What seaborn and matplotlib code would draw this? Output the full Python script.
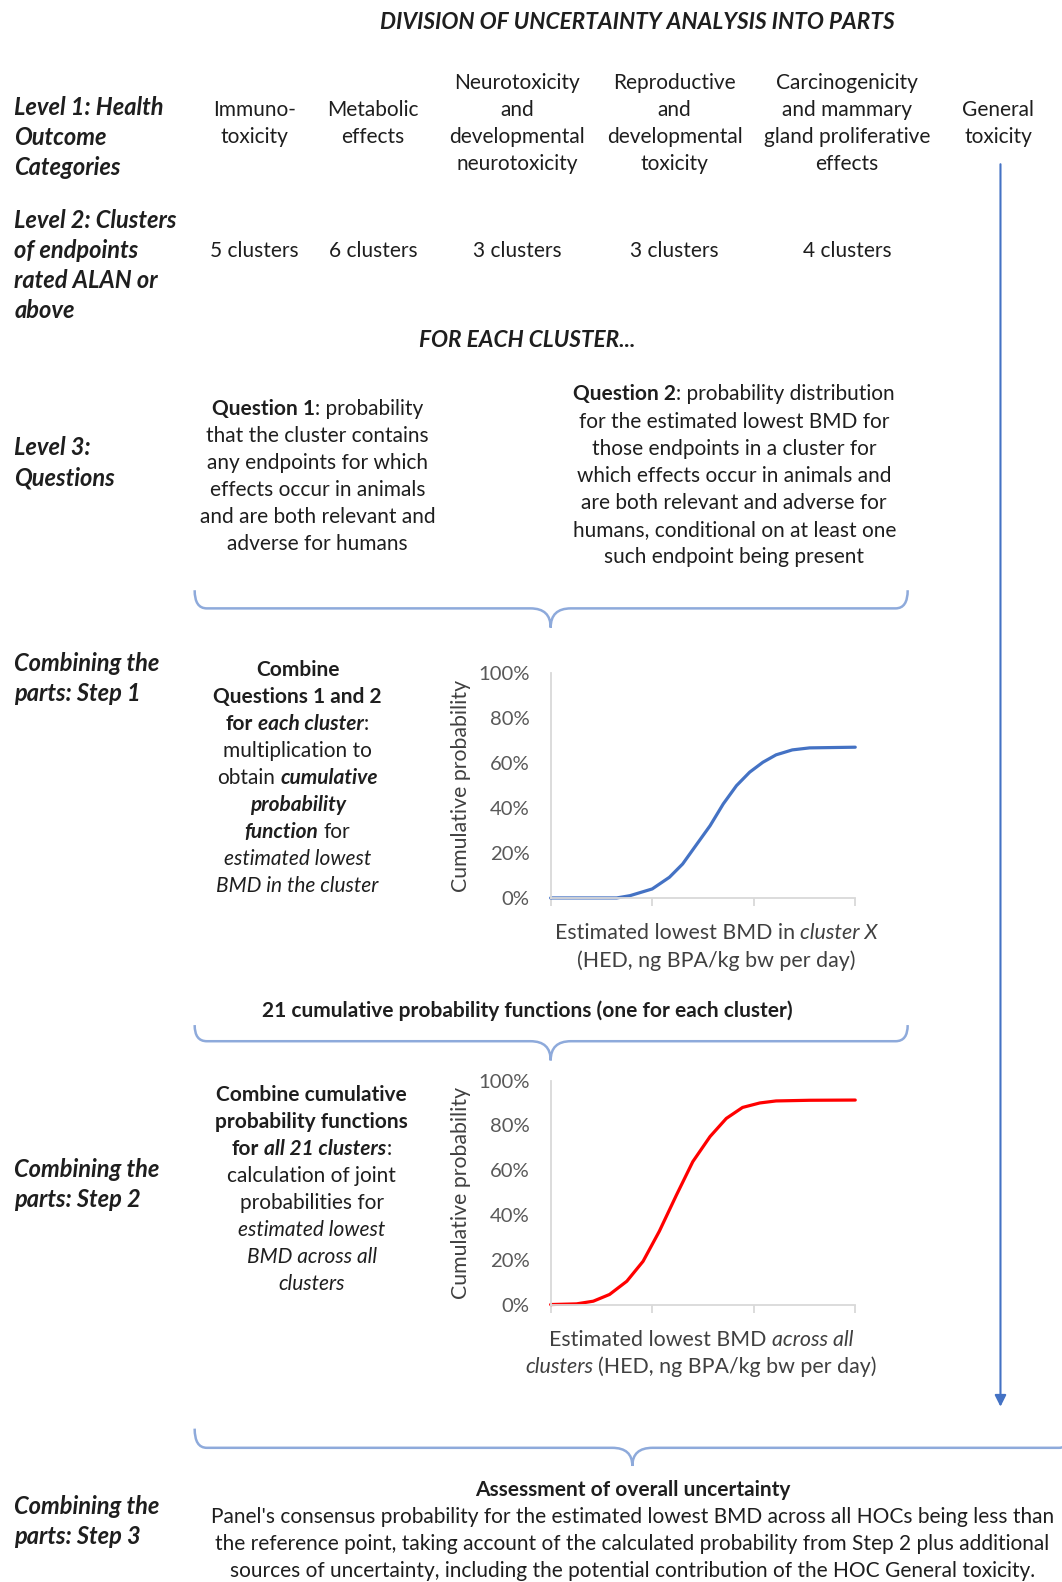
import numpy as np
import pandas as pd
import matplotlib
matplotlib.use("Agg")
import matplotlib.pyplot as plt
import seaborn as sns
from matplotlib.path import Path
from matplotlib.patches import PathPatch
from matplotlib.ticker import PercentFormatter, FixedLocator

#DATA
hoc_names = ["Immuno-\ntoxicity", "Metabolic\neffects",
             "Neurotoxicity\nand\ndevelopmental\nneurotoxicity",
             "Reproductive\nand\ndevelopmental\ntoxicity",
             "Carcinogenicity\nand mammary\ngland proliferative\neffects",
             "General\ntoxicity"]
n_clusters = [5, 6, 3, 3, 4]
total_clusters = 21

# curves (x has no units, ticks at 0..3)
bmd_cluster = [0, 0.65, 0.78, 1.0, 1.17, 1.30, 1.43, 1.57, 1.70, 1.83, 1.96, 2.09,
               2.22, 2.38, 2.55, 3.0]
prob_cluster = [0, 0, 0.010, 0.040, 0.092, 0.151, 0.233, 0.321, 0.418, 0.499, 0.559, 0.603,
                0.636, 0.658, 0.667, 0.670]
bmd_all = [0, 0.255, 0.42, 0.58, 0.75, 0.91, 1.07, 1.24, 1.40, 1.57, 1.73, 1.89,
           2.06, 2.22, 2.55, 3.0]
prob_all = [0, 0.003, 0.015, 0.045, 0.104, 0.193, 0.327, 0.49, 0.638, 0.75, 0.831, 0.88,
            0.90, 0.909, 0.912, 0.913]
y_ticks = [0, 0.2, 0.4, 0.6, 0.8, 1.0]
x_ticks = [0, 1, 2, 3]

question1 = [[("Question 1", "b"), (": probability", "")],
             "that the cluster contains", "any endpoints for which",
             "effects occur in animals", "and are both relevant and",
             "adverse for humans"]
question2 = [[("Question 2", "b"), (": probability distribution", "")],
             "for the estimated lowest BMD for", "those endpoints in a cluster for",
             "which effects occur in animals and", "are both relevant and adverse for",
             "humans, conditional on at least one", "such endpoint being present"]
step1 = [[("Combine", "b")], [("Questions 1 and 2", "b")],
         [("for ", "b"), ("each cluster", "bi"), (":", "")],
         "multiplication to", [("obtain ", ""), ("cumulative", "bi")],
         [("probability", "bi")], [("function", "bi"), (" for", "")],
         [("estimated lowest", "i")], [("BMD in the cluster", "i")]]
step2 = [[("Combine cumulative", "b")], [("probability functions", "b")],
         [("for ", "b"), ("all %d clusters" % total_clusters, "bi"), (":", "")],
         "calculation of joint", "probabilities for",
         [("estimated lowest", "i")], [("BMD across all", "i")], [("clusters", "i")]]
step3 = [[("Assessment of overall uncertainty", "b")],
         "Panel's consensus probability for the estimated lowest BMD across all HOCs being less than",
         "the reference point, taking account of the calculated probability from Step 2 plus additional",
         "sources of uncertainty, including the potential contribution of the HOC General toxicity."]

#STYLE
sns.set_theme(style="white")
plt.rcParams['font.family'] = ['Lato', 'DejaVu Sans']
INK = '#1e1e1e'
BRACE = '#8eaadb'
BLUE = '#4472c4'
FS = 15
FS_HEAD = 16.3
FS_ROW = 17

W, H = 1053, 1568          # layout units = reference pixels
fig = plt.figure(figsize=(10.62, 15.82), dpi=100)
ax = fig.add_axes([0, 0, 1, 1])
ax.set_xlim(0, W)
ax.set_ylim(H, 0)
ax.axis('off')
renderer = fig.canvas.get_renderer()
PX = W / 1062.0
space_cache = {}


def style_kw(st, size, color):
    return dict(fontsize=size, color=color,
                fontweight='bold' if 'b' in st else 'normal',
                fontstyle='italic' if 'i' in st else 'normal')


def text_w(s, kw):
    t = ax.text(0, 0, s, **kw)
    w = t.get_window_extent(renderer).width * PX
    t.remove()
    return w


def space_w(kw):
    key = (kw['fontsize'], kw['fontweight'], kw['fontstyle'])
    if key not in space_cache:
        space_cache[key] = text_w("x x", kw) - text_w("xx", kw)
    return space_cache[key]


def rich(x, y, parts, size=FS, ha='center', color=INK):
    # one line of text with mixed bold / italic pieces
    if isinstance(parts, str):
        parts = [(parts, "")]
    items = []
    total = 0
    for s, st in parts:
        kw = style_kw(st, size, color)
        lead = space_w(kw) if s.startswith(" ") else 0
        trail = space_w(kw) if s.endswith(" ") else 0
        w = text_w(s.strip(), kw)
        items.append((s.strip(), kw, lead, w, trail))
        total += lead + w + trail
    cur = x - total / 2 if ha == 'center' else x
    for s, kw, lead, w, trail in items:
        cur += lead
        ax.text(cur, y, s, va='center', ha='left', **kw)
        cur += w + trail


def block(x, y0, lines, step=26.8, **kw):
    for i, ln in enumerate(lines):
        rich(x, y0 + i * step, ln, **kw)


def brace(x0, x1, xm, ytop, yh, ytip, r=12, r2=20):
    verts = [(x0, ytop), (x0, yh), (x0 + r, yh), (xm - r2, yh), (xm, yh), (xm, ytip),
             (xm, yh), (xm + r2, yh), (x1 - r, yh), (x1, yh), (x1, ytop)]
    codes = [Path.MOVETO, Path.CURVE3, Path.CURVE3, Path.LINETO, Path.CURVE3, Path.CURVE3,
             Path.CURVE3, Path.CURVE3, Path.LINETO, Path.CURVE3, Path.CURVE3]
    ax.add_patch(PathPatch(Path(verts, codes), fill=False, edgecolor=BRACE, lw=1.8))


#TITLE AND ROW LABELS
rich(632, 22, [("DIVISION OF UNCERTAINTY ANALYSIS INTO PARTS", "bi")], size=FS_HEAD)
left_labels = [(107, ["Level 1: Health", "Outcome", "Categories"]),
               (219, ["Level 2: Clusters", "of endpoints", "rated ALAN or", "above"]),
               (444, ["Level 3:", "Questions"]),
               (658, ["Combining the", "parts: Step 1"]),
               (1159, ["Combining the", "parts: Step 2"]),
               (1493, ["Combining the", "parts: Step 3"])]
for y0, lines in left_labels:
    block(14, y0, [[(l, "bi")] for l in lines], step=29.5, ha='left', size=FS_ROW)

#LEVEL 1 AND 2
hoc_x = [252, 370, 513, 669, 840, 990]
for xc, name in zip(hoc_x, hoc_names):
    lines = name.split("\n")
    y0 = 122 - (len(lines) - 1) * 26.8 / 2
    block(xc, y0, lines)
for xc, n in zip(hoc_x, n_clusters):
    rich(xc, 249, "%d clusters" % n)

rich(523, 337, [("FOR EACH CLUSTER...", "bi")], size=FS_HEAD)

#LEVEL 3
block(315, 405, question1)
block(728, 391, question2)
brace(193, 900, 546, 585, 603, 622)

#STEP 1
block(295, 664, step1)
rich(523, 1002, [("%d cumulative probability functions (one for each cluster)" % total_clusters, "b")])
brace(193, 900, 546, 1016, 1032, 1051)

#STEP 2
block(309, 1085, step2)
brace(193, 1062, 627, 1416, 1435, 1453)

#STEP 3
block(627, 1477, step3)

# general toxicity arrow down the side
ax.annotate('', xy=(992, 1397), xytext=(992, 160),
            arrowprops=dict(arrowstyle='-|>', color=BLUE, lw=1.5, mutation_scale=17))


#CHARTS
def chart(top, bottom, xs, ys, color, xlabel_lines, xlabel_x):
    l, r = 546, 848
    cax = fig.add_axes([l / W, 1 - bottom / H, (r - l) / W, (bottom - top) / H])
    df = pd.DataFrame({'bmd': xs, 'prob': ys})
    sns.lineplot(data=df, x='bmd', y='prob', ax=cax, color=color, linewidth=2.3)
    cax.lines[0].set_clip_on(False)
    cax.lines[0].set_solid_joinstyle('round')
    cax.set_facecolor('none')
    cax.set_xlim(0, 3)
    cax.set_ylim(0, 1)
    cax.xaxis.set_major_locator(FixedLocator(x_ticks))
    cax.yaxis.set_major_locator(FixedLocator(y_ticks))
    cax.yaxis.set_major_formatter(PercentFormatter(1.0, decimals=0))
    sns.despine(ax=cax)
    for sp in ['left', 'bottom']:
        cax.spines[sp].set_color('#d9d9d9')
        cax.spines[sp].set_linewidth(1.3)
    cax.tick_params(axis='y', length=0, pad=15, labelsize=14.6, labelcolor='#595959')
    cax.tick_params(axis='x', length=6, width=1.3, color='#d9d9d9', direction='out',
                    bottom=True, labelbottom=False)
    cax.set_xlabel('')
    cax.set_ylabel('Cumulative probability', fontsize=15.3, color='#404040')
    cax.yaxis.label.set_va('center')
    cax.yaxis.set_label_coords((457 - l) / (r - l), 0.5)
    block(xlabel_x, bottom + 35, xlabel_lines, size=15.4, color='#404040')
    return cax


chart(667, 890, bmd_cluster, prob_cluster, BLUE,
      [[("Estimated lowest BMD in ", ""), ("cluster X", "i")], "(HED, ng BPA/kg bw per day)"], 710)
chart(1071, 1293, bmd_all, prob_all, '#ff0000',
      [[("Estimated lowest BMD ", ""), ("across all", "i")],
       [("clusters", "i"), (" (HED, ng BPA/kg bw per day)", "")]], 695)

fig.savefig('out.png', dpi=100, facecolor='white')
